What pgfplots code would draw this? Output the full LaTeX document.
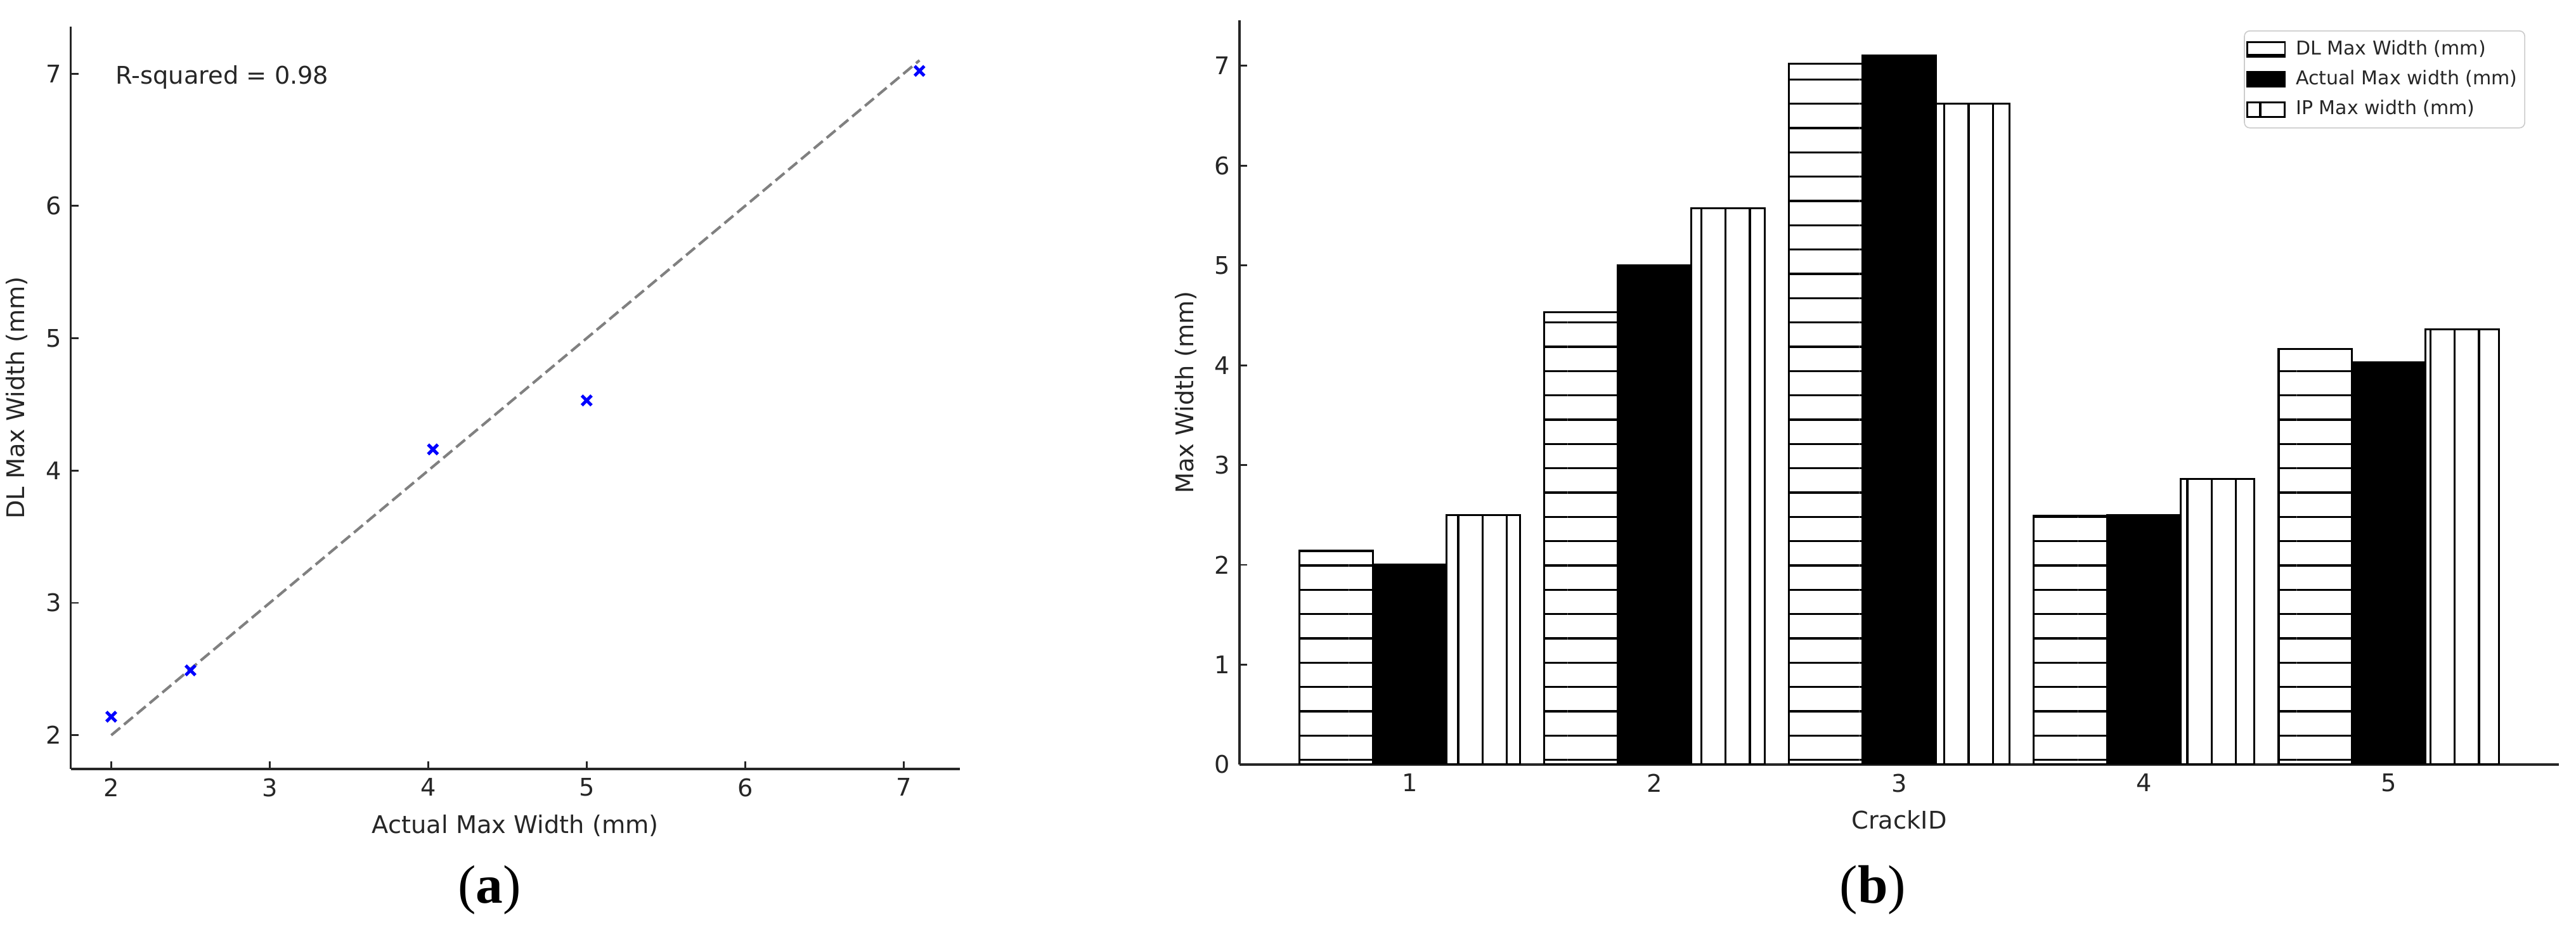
\documentclass[border=0pt]{standalone}
\usepackage{fontspec}
\setmainfont{DejaVu Sans}
\newfontfamily\capfont{Liberation Serif}
\usepackage{pgfplots}
\pgfplotsset{compat=1.18}
\usetikzlibrary{patterns.meta}

\definecolor{txt}{RGB}{38,38,38}
\definecolor{axc}{RGB}{38,38,38}

\pgfplotsset{
  mystyle/.style={
    scale only axis,
    axis lines=left,
    axis line style={-, draw=axc, line width=0.85pt},
    tick align=inside,
    major tick length=2.9pt,
    tick style={draw=axc, line width=0.7pt},
    tick label style={font=\fontsize{9.2}{11}\selectfont, text=txt},
    label style={font=\fontsize{9.2}{11}\selectfont, text=txt},
    /pgf/number format/assume math mode=true,
  },
  mybar/.style={
    ybar, bar width=0.3, line width=0.75pt, draw=black,
    legend image code/.code={\draw[##1, sharp corners, line width=0.7pt] (0pt,-2.75pt) rectangle (14.2pt,2.75pt);},
  },
}

\begin{document}
\begin{tikzpicture}
\path[use as bounding box] (0,0) rectangle (975.12pt,352.08pt);

% (a) scatter
\begin{axis}[mystyle,
  at={(26.81pt,60.96pt)}, anchor=south west,
  width=336.55pt, height=281.04pt,
  xmin=1.745, xmax=7.355, ymin=1.745, ymax=7.355,
  xtick={2,3,4,5,6,7}, ytick={2,3,4,5,6,7},
  xlabel={Actual Max Width (mm)}, ylabel={DL Max Width (mm)},
]
\addplot[draw=gray, line width=1pt, dash pattern=on 4.4pt off 1.9pt] coordinates {(2,2) (7.1,7.1)};
\addplot[only marks, mark=x, mark size=2.6pt, color=blue, line width=1.2pt] coordinates {
  (2.0,2.14) (2.5,2.49) (4.03,4.16) (5.0,4.53) (7.1,7.02)};
\node[anchor=north west, inner sep=0pt, font=\fontsize{9.2}{11}\selectfont, text=txt] at (rel axis cs:0.05,0.948) {R-squared = 0.98};
\end{axis}

% (b) bars
\begin{axis}[mystyle,
  at={(469.2pt,62.64pt)}, anchor=south west,
  width=499.44pt, height=281.76pt,
  xmin=0.305, xmax=5.695, ymin=0, ymax=7.455,
  xtick={1,2,3,4,5}, ytick={0,1,2,3,4,5,6,7},
  xlabel={CrackID}, ylabel={Max Width (mm)},
  legend cell align=left,
  legend style={at={(rel axis cs:0.9745,0.9864)}, anchor=north east,
    draw=black!20, rounded corners=2pt, fill=white,
    font=\fontsize{7.2}{8.6}\selectfont, text=txt,
    inner xsep=0.8pt, inner ysep=1.5pt, row sep=0.4pt, column sep=1.8pt},
]
\addplot[mybar, bar shift=-0.3, pattern={Lines[angle=0,distance=9.2pt,line width=0.8pt]}, pattern color=black]
  coordinates {(1,2.14) (2,4.53) (3,7.02) (4,2.49) (5,4.16)};
\addlegendentry{DL Max Width (mm)}
\addplot[mybar, bar shift=0, fill=black]
  coordinates {(1,2.0) (2,5.0) (3,7.1) (4,2.5) (5,4.03)};
\addlegendentry{Actual Max width (mm)}
\addplot[mybar, bar shift=0.3, pattern={Lines[angle=90,distance=9.2pt,line width=0.8pt]}, pattern color=black]
  coordinates {(1,2.5) (2,5.57) (3,6.62) (4,2.86) (5,4.36)};
\addlegendentry{IP Max width (mm)}
\end{axis}

\node[anchor=base, font=\capfont\fontsize{20.5}{24}\selectfont] at (185.3pt,10.1pt) {(\textbf{a})};
\node[anchor=base, font=\capfont\fontsize{20.5}{24}\selectfont] at (708.96pt,10.1pt) {(\textbf{b})};
\end{tikzpicture}
\end{document}
